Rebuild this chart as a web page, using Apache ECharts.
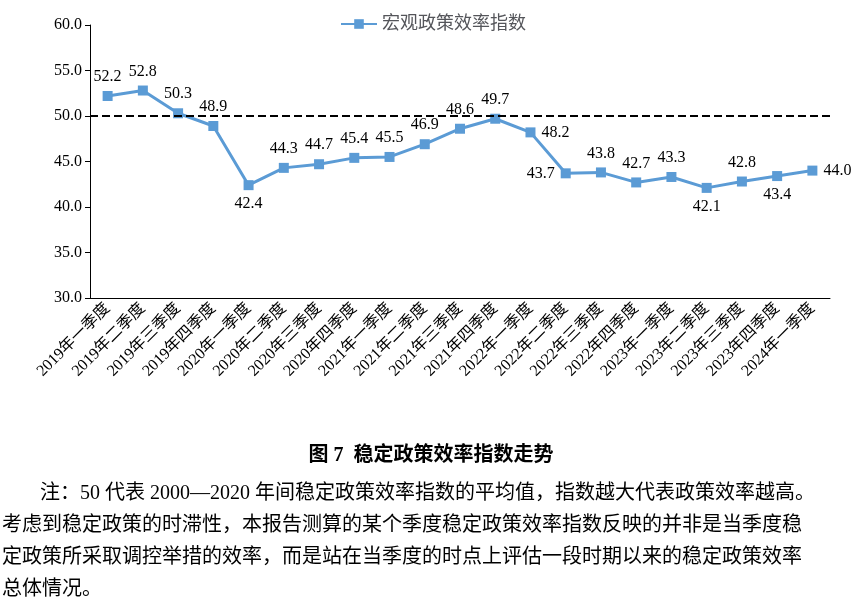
<!DOCTYPE html>
<html>
<head>
<meta charset="utf-8">
<script src="https://cdn.jsdelivr.net/npm/echarts@6/dist/echarts.min.js"></script>
<style>
    html, body { margin: 0; padding: 0; background: #fff; }
    #main { width: 862px; height: 613px; }
</style>
</head>
<body>
<div id="main"></div>
<script>
const CATEGORIES = [
    '2019年一季度', '2019年二季度', '2019年三季度', '2019年四季度',
    '2020年一季度', '2020年二季度', '2020年三季度', '2020年四季度',
    '2021年一季度', '2021年二季度', '2021年三季度', '2021年四季度',
    '2022年一季度', '2022年二季度', '2022年三季度', '2022年四季度',
    '2023年一季度', '2023年二季度', '2023年三季度', '2023年四季度',
    '2024年一季度'
];
const VALUES = [52.2, 52.8, 50.3, 48.9, 42.4, 44.3, 44.7, 45.4, 45.5, 46.9, 48.6,
    49.7, 48.2, 43.7, 43.8, 42.7, 43.3, 42.1, 42.8, 43.4, 44.0];
const LABEL_POS = ['top', 'top', 'top', 'top', 'bottom', 'top', 'top', 'top', 'top', 'top', 'top',
    'top', 'right', 'left', 'top', 'top', 'top', 'bottom', 'top', 'bottom', 'right'];
const Y_TICKS = [30, 35, 40, 45, 50, 55, 60];
const BASELINE = 50;
const NOTES = [
    '注：50 代表 2000—2020 年间稳定政策效率指数的平均值，指数越大代表政策效率越高。',
    '考虑到稳定政策的时滞性，本报告测算的某个季度稳定政策效率指数反映的并非是当季度稳',
    '定政策所采取调控举措的效率，而是站在当季度的时点上评估一段时期以来的稳定政策效率',
    '总体情况。'
];

const FONT = '"Liberation Serif", "Noto Sans CJK SC", serif';

let myChart = echarts.init(document.getElementById('main'));

let seriesData = VALUES.map((v, i) => ({
    value: v,
    label: {position: LABEL_POS[i]}
}));

let option = {
    animation: false,
    textStyle: {fontFamily: FONT, color: '#000'},
    legend: {
        top: 10,
        left: 335,
        itemWidth: 36,
        itemHeight: 12,
        textStyle: {fontSize: 18, fontFamily: FONT},
        data: ['宏观政策效率指数']
    },
    grid: {left: 90, right: 32, top: 25, bottom: 315},
    xAxis: {
        type: 'category',
        data: CATEGORIES,
        axisLine: {lineStyle: {color: '#000'}},
        axisTick: {show: false},
        axisLabel: {rotate: 45, fontSize: 16, color: '#000', margin: 8, interval: 0}
    },
    yAxis: {
        type: 'value',
        min: Y_TICKS[0],
        max: Y_TICKS[Y_TICKS.length - 1],
        interval: 5,
        axisLine: {show: true, lineStyle: {color: '#000'}},
        axisTick: {show: true, inside: false, lineStyle: {color: '#000'}},
        splitLine: {show: false},
        axisLabel: {fontSize: 16, color: '#000', formatter: v => v.toFixed(1)}
    },
    series: [{
        name: '宏观政策效率指数',
        type: 'line',
        data: seriesData,
        symbol: 'rect',
        symbolSize: 10,
        lineStyle: {width: 3, color: '#5b9bd5'},
        itemStyle: {color: '#5b9bd5'},
        label: {show: true, fontSize: 16, color: '#000', distance: 6, formatter: p => p.value.toFixed(1)},
        markLine: {
            silent: true,
            symbol: 'none',
            label: {show: false},
            lineStyle: {type: 'dashed', color: '#000', width: 2},
            data: [{yAxis: BASELINE}]
        }
    }],
    graphic: [
        {
            type: 'text',
            left: 'center',
            top: 446,
            style: {text: '图 7  稳定政策效率指数走势', fontSize: 20, fontWeight: 'bold', fontFamily: FONT, fill: '#000'}
        }
    ].concat(NOTES.map((t, i) => ({
        type: 'text',
        left: i === 0 ? 40 : 2,
        top: 484 + i * 32,
        style: {text: t, fontSize: 20, fontFamily: FONT, fill: '#000'}
    })))
};

option && myChart.setOption(option);
</script>
</body>
</html>
